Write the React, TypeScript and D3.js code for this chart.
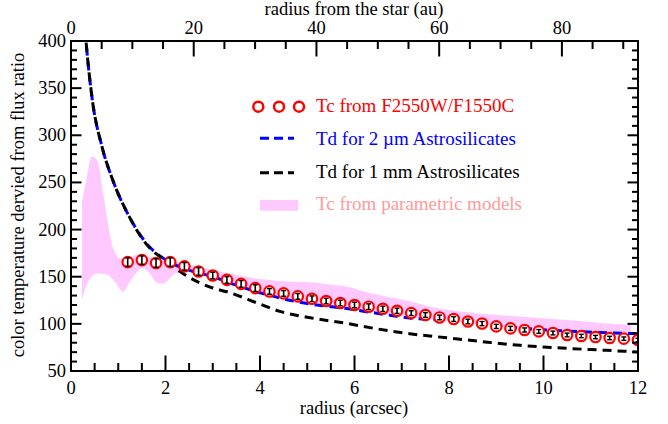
import React from "react";
import * as d3 from "d3";

// ---------- data ----------
const DIST_PC = 7.7; // au per arcsec

const radiusArcsec = [1.2, 1.5, 1.8, 2.1, 2.4, 2.7, 3.0, 3.3, 3.6, 3.9, 4.2, 4.5, 4.8, 5.1, 5.4, 5.7, 6.0, 6.3, 6.6, 6.9, 7.2, 7.5, 7.8, 8.1, 8.4, 8.7, 9.0, 9.3, 9.6, 9.9, 10.2, 10.5, 10.8, 11.1, 11.4, 11.7, 12.0];
const tcValues = [165.5, 167.6, 164.5, 165.5, 161.0, 155.6, 151.3, 146.6, 142.4, 137.9, 134.4, 132.3, 129.1, 126.6, 124.2, 122.1, 120.0, 118.2, 116.0, 113.9, 111.4, 109.4, 106.8, 105.1, 102.5, 100.3, 97.3, 95.2, 93.5, 92.0, 90.3, 88.2, 87.1, 86.0, 85.0, 84.3, 82.9];
const tcErrors = [4.5, 4.5, 4.5, 4.5, 4, 4, 3.5, 3.5, 3.5, 3.5, 3, 3, 3, 3, 3, 3, 3, 3, 2.8, 2.8, 2.5, 2.5, 2.5, 2.5, 2.5, 2.2, 2.2, 2.2, 2.2, 2.0, 2.0, 2.0, 1.8, 1.8, 1.8, 1.8, 1.8];

// Td for 2 micron astrosilicates (blue)
const tdSmallR = [0.3, 0.317, 0.45, 0.65, 0.88, 1.23, 1.62, 2.0, 2.5, 3.0, 3.5, 4.0, 4.5, 5.0, 5.8, 6.5, 7.2, 8.0, 8.4, 9.3, 10.35, 11.2, 12.0];
const tdSmallT = [410, 400, 338, 289, 253, 214, 184, 168, 157, 150, 141, 133, 126.5, 121.5, 116.5, 111, 106, 103.5, 102, 96.5, 92.7, 90.8, 89.5];

// Td for 1 mm astrosilicates (black)
const tdLargeR = [0.3, 0.317, 0.45, 0.65, 0.88, 1.23, 1.62, 2.0, 2.41, 3.0, 3.3, 4.0, 4.42, 5.0, 5.83, 6.5, 7.17, 8.0, 8.66, 9.5, 10.5, 11.3, 12.0];
const tdLargeT = [410, 400, 338, 289, 253, 214, 183, 167, 152, 138, 134, 121, 113.2, 107, 100.5, 94.5, 89.5, 85, 81.4, 77.2, 74, 72, 70.2];

// Tc from parametric models (pink band)
const bandR = [0.233, 0.317, 0.44, 0.56, 0.67, 0.78, 0.88, 0.95, 0.99, 1.11, 1.23, 1.41, 1.52, 1.66, 1.83, 1.94, 2.22, 2.5, 3.0, 3.3, 4.0, 4.6, 5.06, 5.5, 5.83, 6.2, 6.82, 7.17, 7.53, 8.23, 9.0, 9.7, 10.5, 11.2, 11.85];
const bandHigh = [229.7, 250, 277.4, 273, 242, 207, 182, 174, 170, 169, 170, 173, 172, 170.8, 168, 167, 166, 163, 157, 154, 147.5, 145, 144, 141.5, 139.7, 134.4, 127.4, 124, 119, 113.2, 109.5, 107, 104, 101, 99];
const bandLow = [125.6, 139.7, 150.3, 153.8, 153, 152, 147, 143.3, 140, 134.4, 143.3, 155.6, 159.2, 153.8, 143.3, 142.5, 153.8, 155, 150, 146, 134, 127, 122, 119, 117, 114.5, 109.5, 107, 105, 102, 97.5, 94.5, 92.5, 91.2, 90.5];

const yTicksMajor = [50, 100, 150, 200, 250, 300, 350, 400];
const xTicksMajor = [0, 2, 4, 6, 8, 10, 12];
const auTicksMajor = [0, 20, 40, 60, 80];

const legendLabels = [
  "Tc from F2550W/F1550C",
  "Td for 2 \u00b5m Astrosilicates",
  "Td for 1 mm Astrosilicates",
  "Tc from parametric models",
];

// ---------- layout ----------
const W = 668;
const H = 424;
const L = 71, R = 638, T = 41, B = 371;
const FONT = '"Liberation Serif", "DejaVu Serif", "Times New Roman", Times, serif';

export default function App() {
  const x = d3.scaleLinear().domain([0, 12]).range([L, R]);
  const y = d3.scaleLinear().domain([50, 400]).range([B, T]);
  const xAu = d3.scaleLinear().domain([0, 12 * DIST_PC]).range([L, R]);

  const lineGen = d3
    .line<[number, number]>()
    .x((d) => x(d[0]))
    .y((d) => y(d[1]))
    .curve(d3.curveMonotoneX);

  const smallPts = tdSmallR.map((r, i) => [r, tdSmallT[i]] as [number, number]);
  const largePts = tdLargeR.map((r, i) => [r, tdLargeT[i]] as [number, number]);

  const areaGen = d3
    .area<number>()
    .x((_, i) => x(bandR[i]))
    .y0((_, i) => y(bandLow[i]))
    .y1((_, i) => y(bandHigh[i]))
    .curve(d3.curveMonotoneX);

  const yMinor = d3.range(50, 401, 10);
  const xMinor = d3.range(0, 12.001, 0.5);
  const auMinor = d3.range(0, 12 * DIST_PC, 5);

  const axisStroke = 2;
  const txt = { fontFamily: FONT };

  return (
    <svg
      width={W}
      height={H}
      style={{ position: "absolute", left: 0, top: 0, background: "#fff", fontFamily: FONT }}
    >
      <defs>
        <clipPath id="plotClip">
          <rect x={L} y={T} width={R - L} height={B - T} />
        </clipPath>
      </defs>
      <rect x={0} y={0} width={W} height={H} fill="#fff" />

      <g clipPath="url(#plotClip)">
        <path d={areaGen(bandR) || ""} fill="#ffc8ff" stroke="none" />
        <path
          d={lineGen(smallPts) || ""}
          fill="none"
          stroke="#0000ff"
          strokeWidth={3}
          strokeDasharray="9,6"
        />
        <path
          d={lineGen(largePts) || ""}
          fill="none"
          stroke="#000"
          strokeWidth={3}
          strokeDasharray="9,6"
          strokeDashoffset={4}
        />
        {radiusArcsec.map((r, i) => {
          const cx = x(r);
          const cy = y(tcValues[i]);
          const yLo = y(tcValues[i] - tcErrors[i]);
          const yHi = y(tcValues[i] + tcErrors[i]);
          return (
            <g key={i}>
              <circle cx={cx} cy={cy} r={5.2} fill="#fff" stroke="#ff0000" strokeWidth={2.2} />
              <line x1={cx} x2={cx} y1={yLo} y2={yHi} stroke="#000" strokeWidth={1.6} />
              <line x1={cx - 2.5} x2={cx + 2.5} y1={yLo} y2={yLo} stroke="#000" strokeWidth={1.4} />
              <line x1={cx - 2.5} x2={cx + 2.5} y1={yHi} y2={yHi} stroke="#000" strokeWidth={1.4} />
            </g>
          );
        })}
      </g>

      {/* frame */}
      <rect x={L} y={T} width={R - L} height={B - T} fill="none" stroke="#000" strokeWidth={axisStroke} />

      {/* left & right ticks */}
      {yMinor.map((v) => {
        const major = v % 50 === 0;
        const len = major ? 10.5 : 6;
        return (
          <g key={"y" + v}>
            <line x1={L} x2={L + len} y1={y(v)} y2={y(v)} stroke="#000" strokeWidth={2} />
            <line x1={R} x2={R - len} y1={y(v)} y2={y(v)} stroke="#000" strokeWidth={2} />
          </g>
        );
      })}
      {yTicksMajor.map((v) => (
        <text key={"yl" + v} x={66} y={y(v) + 6} textAnchor="end" fontSize={18.5} fill="#000" style={txt}>
          {v}
        </text>
      ))}

      {/* bottom ticks */}
      {xMinor.map((v) => {
        const major = Math.abs(v / 2 - Math.round(v / 2)) < 1e-6;
        const len = major ? 15.5 : 8;
        return <line key={"x" + v} x1={x(v)} x2={x(v)} y1={B} y2={B - len} stroke="#000" strokeWidth={2} />;
      })}
      {xTicksMajor.map((v) => (
        <text key={"xl" + v} x={x(v)} y={394} textAnchor="middle" fontSize={18.5} fill="#000" style={txt}>
          {v}
        </text>
      ))}

      {/* top ticks (au) */}
      {auMinor.map((v) => {
        const major = v % 20 === 0;
        const len = major ? 15.5 : 8;
        return <line key={"a" + v} x1={xAu(v)} x2={xAu(v)} y1={T} y2={T + len} stroke="#000" strokeWidth={2} />;
      })}
      {auTicksMajor.map((v) => (
        <text key={"al" + v} x={xAu(v)} y={33.5} textAnchor="middle" fontSize={18.5} fill="#000" style={txt}>
          {v}
        </text>
      ))}

      {/* axis titles */}
      <text x={354} y={414} textAnchor="middle" fontSize={18.5} fill="#000" style={txt}>
        radius (arcsec)
      </text>
      <text x={354} y={15} textAnchor="middle" fontSize={18.5} fill="#000" style={txt}>
        radius from the star (au)
      </text>
      <text
        transform={`translate(24, ${205}) rotate(-90)`}
        textAnchor="middle"
        fontSize={18.5}
        fill="#000"
        style={txt}
      >
        color temperature dervied from flux ratio
      </text>

      {/* legend */}
      <g>
        {[258.3, 279, 299].map((cx) => (
          <circle key={cx} cx={cx} cy={106.7} r={5} fill="none" stroke="#ff0000" strokeWidth={2.5} />
        ))}
        <text x={316} y={112} fontSize={19} fill="#ff0000" style={txt}>
          {legendLabels[0]}
        </text>
        <line x1={260} x2={294} y1={138.3} y2={138.3} stroke="#0000ff" strokeWidth={3} strokeDasharray="9,5" />
        <text x={316} y={145} fontSize={19} fill="#0000ff" style={txt}>
          {legendLabels[1]}
        </text>
        <line x1={260} x2={294} y1={172.7} y2={172.7} stroke="#000" strokeWidth={3} strokeDasharray="9,5" />
        <text x={316} y={178.3} fontSize={19} fill="#000" style={txt}>
          {legendLabels[2]}
        </text>
        <rect x={260} y={200} width={38} height={10.7} fill="#ffc8ff" />
        <text x={316} y={209.5} fontSize={19} fill="#ff9a9a" style={txt}>
          {legendLabels[3]}
        </text>
      </g>
    </svg>
  );
}
